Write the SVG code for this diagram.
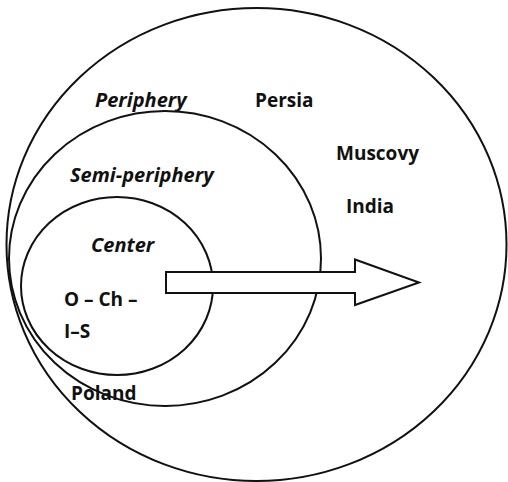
<svg xmlns="http://www.w3.org/2000/svg" width="508" height="482" viewBox="0 0 508 482">
<style>
.c{fill:none;stroke:#111;stroke-width:2}
.t{font-family:"Open Sans","Liberation Sans",sans-serif;font-weight:bold;font-size:19px;fill:#111}
.i{font-style:italic;font-size:20px}
</style>
<rect width="508" height="482" fill="#fff"/>
<g id="outer"><ellipse class="c" cx="256.5" cy="244.5" rx="250" ry="236.5"/></g>
<g id="middle"><ellipse class="c" cx="165" cy="258.5" rx="156" ry="147.5"/></g>
<g id="inner"><ellipse class="c" cx="117" cy="286" rx="96" ry="89"/></g>
<g id="connectors">
<polygon points="166,272 355,272 355,259.5 419,282.5 355,305 355,293 166,293" fill="#fff" stroke="#111" stroke-width="2"/>
</g>
<g id="labels">
<text class="t i" x="95" y="107">Periphery</text>
<text class="t" x="255" y="107">Persia</text>
<text class="t" x="336" y="160">Muscovy</text>
<text class="t i" x="70" y="182">Semi-periphery</text>
<text class="t" x="346" y="213">India</text>
<text class="t i" x="91" y="252">Center</text>
<text class="t" x="64" y="306">O – Ch –</text>
<text class="t" x="64" y="338">I–S</text>
<text class="t" x="71" y="400">Poland</text>
</g>
</svg>
